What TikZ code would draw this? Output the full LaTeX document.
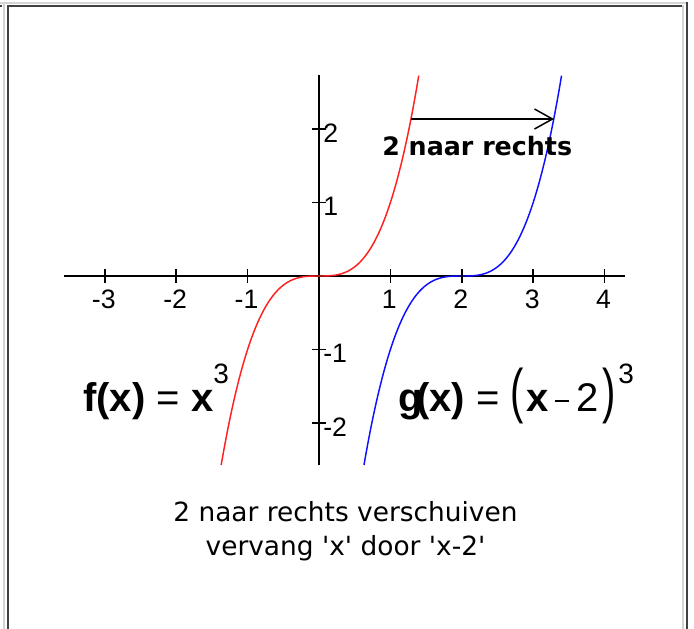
\documentclass[tikz,border=0pt]{standalone}
\usepackage{fontspec}
\setmainfont{Liberation Sans}
\newfontfamily\dejavu{DejaVu Sans}
\usetikzlibrary{arrows.meta}
\definecolor{lightgr}{HTML}{D4D4D4}
\definecolor{darkgr}{HTML}{404040}
\definecolor{redc}{HTML}{FF2020}
\definecolor{bluec}{HTML}{1010FF}
\tikzset{
  axisline/.style={line width=1.1pt, black},
  tickline/.style={line width=1.1pt, black},
  curvered/.style={line width=1.1pt, redc},
  curveblue/.style={line width=1.1pt, bluec},
  ticklab/.style={inner sep=0pt, font=\fontsize{20pt}{22pt}\selectfont},
  formula/.style={inner sep=0pt, anchor=base west, font=\fontsize{30pt}{32pt}\selectfont},
  caption/.style={inner sep=0pt, anchor=base, font=\dejavu\fontsize{19.8pt}{24pt}\selectfont},
}
\newcommand{\supthree}{\raisebox{21pt}{\fontsize{21pt}{22pt}\selectfont 3}}
\begin{document}
\begin{tikzpicture}[x=0.75pt,y=-0.75pt]
\useasboundingbox (0,0) rectangle (694,629);
\fill[white] (0,0) rectangle (694,629);
% borders
\fill[lightgr] (0,2) rectangle (686,4);
\fill[lightgr] (3,2) rectangle (5,629);
\fill[darkgr] (686,2) rectangle (688,629);
\fill[darkgr] (7,5) rectangle (682,7);
\fill[darkgr] (7,5) rectangle (9,629);
\fill[lightgr] (682,5) rectangle (684,629);
\fill[darkgr] (0,5) rectangle (2,7);
% axes
\coordinate (xa) at (64,276);
\coordinate (xb) at (625,276);
\coordinate (ya) at (319,75);
\coordinate (yb) at (319,465);
\draw[axisline] (xa) -- (xb);
\draw[axisline] (ya) -- (yb);
% curves
\draw[curvered] plot[domain=-1.370:1.398, samples=150, smooth] ({319+71.4*\x},{276-73.5*\x*\x*\x});
\draw[curveblue] plot[domain=-1.370:1.398, samples=150, smooth] ({319+71.4*(\x+2)},{276-73.5*\x*\x*\x});
\foreach \k in {-3,-2,-1,1,2,3,4} {
  \draw[tickline] ({319+71.4*\k},269) -- ({319+71.4*\k},283);
  \node[ticklab, anchor=north] (xl\k) at ({319+71.4*\k-1},290) {\k};
}
\foreach \k in {-2,-1,1,2} {
  \draw[tickline] (312,{276-73.5*\k}) -- (326,{276-73.5*\k});
  \node[ticklab, anchor=west] (yl\k) at (323,{276-73.5*\k+4}) {\k};
}
% arrow
\coordinate (a1) at (411,119);
\coordinate (a2) at (554,119);
\draw[line width=1.1pt, -{Straight Barb[length=13.5pt,width=15pt,line width=1.1pt]}] (a1) -- (a2);
\node[inner sep=0pt, anchor=base west, font=\dejavu\bfseries\fontsize{19pt}{20pt}\selectfont] (shift) at (382,155) {2 naar rechts};
% formulas
\node[formula] (fx) at (83,411) {\textbf{f(x)} = \textbf{x}\supthree};
\node[formula] (gx) at (398,411) {\textbf{g\kern-5pt(x)} = \scalebox{1}[1.5]{(}\kern2pt\textbf{x}\kern5pt\rule[6.75pt]{10.5pt}{1.5pt}\kern5pt2\kern3pt\scalebox{1}[1.5]{)}\kern2pt\supthree};
% caption
\node[caption] (c1) at (345.5,521.7) {2 naar rechts verschuiven};
\node[caption] (c2) at (345.5,555) {vervang 'x' door 'x-2'};
\end{tikzpicture}
\end{document}
